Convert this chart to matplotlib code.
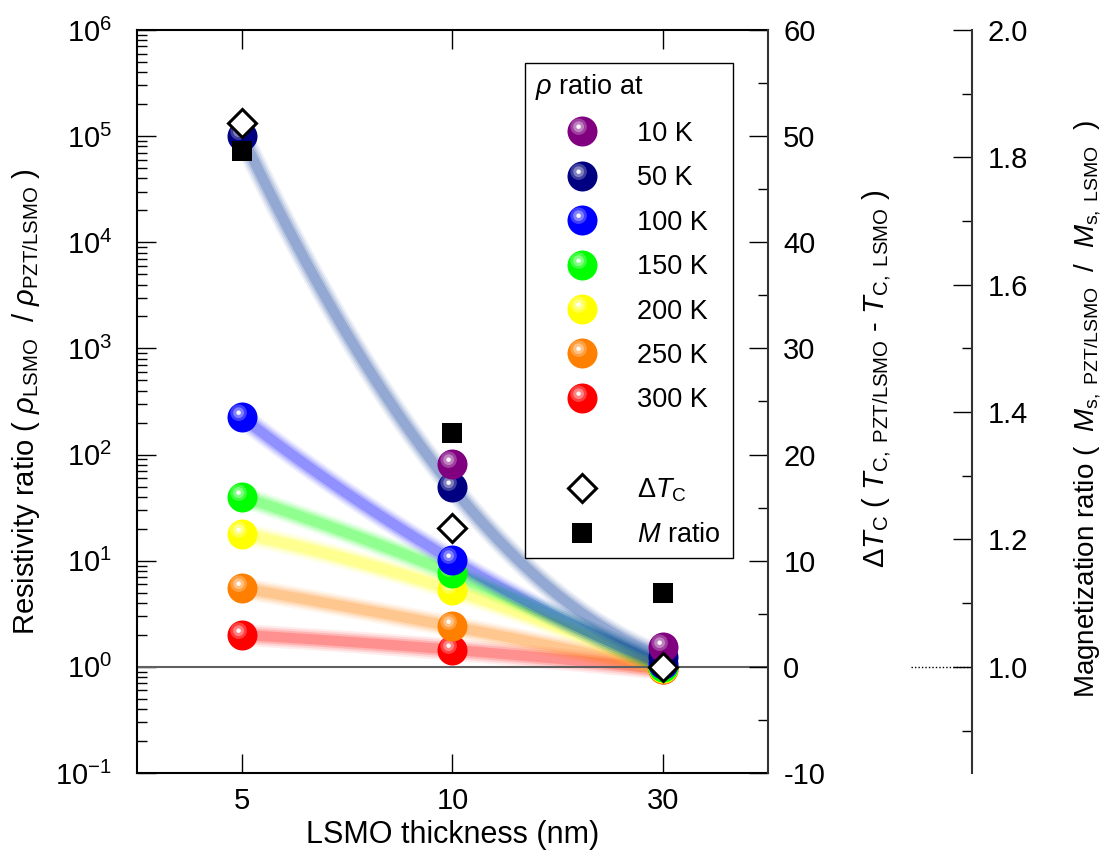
import numpy as np
import matplotlib
matplotlib.use('Agg')
import matplotlib.pyplot as plt
from matplotlib.lines import Line2D
from matplotlib.markers import MarkerStyle
from matplotlib.transforms import Affine2D
from matplotlib.legend_handler import HandlerTuple
from matplotlib.ticker import MultipleLocator, FormatStrFormatter, LogLocator

plt.rcParams['font.family'] = ['Liberation Sans', 'DejaVu Sans']
plt.rcParams['mathtext.fontset'] = 'custom'
plt.rcParams['mathtext.rm'] = 'Liberation Sans'
plt.rcParams['mathtext.it'] = 'Liberation Sans:italic'
plt.rcParams['mathtext.bf'] = 'Liberation Sans:bold'
plt.rcParams['axes.unicode_minus'] = False

# data
thickness = ['5', '10', '30']
temps = ['10 K', '50 K', '100 K', '150 K', '200 K', '250 K', '300 K']
rho_10K = [np.nan, 82, 1.55]
rho_50K = [1.0e5, 49, 1.25]
rho_100K = [224, 10.1, 1.06]
rho_150K = [40, 7.6, 1.0]
rho_200K = [18, 5.3, 0.97]
rho_250K = [5.5, 2.4, 0.96]
rho_300K = [2.0, 1.45, 0.95]
dTc = [51.2, 13.1, 0.0]
m_ratio = [1.81, 1.367, 1.116]

rho_all = [rho_10K, rho_50K, rho_100K, rho_150K, rho_200K, rho_250K, rho_300K]
ball_colors = ['#800080', '#000080', '#0000ff', '#00ff00', '#ffff00', '#ff8000', '#ff0000']
band_colors = [None, '#08389a', '#0000ff', '#00ff00', '#ffff00', '#ff8000', '#ff0000']

x = np.arange(len(thickness))
BALL = 21.6  # marker size in points

# glossy highlight on the balls
hl_layers = [(MarkerStyle('o', transform=Affine2D().scale(0.55).translate(-0.13, 0.16)), 0.25),
             (MarkerStyle('o', transform=Affine2D().scale(0.36).translate(-0.13, 0.16)), 0.35),
             (MarkerStyle('o', transform=Affine2D().scale(0.15).translate(-0.13, 0.16)), 0.95)]


def ball_handles(c):
    hs = [Line2D([], [], ls='none', marker='o', ms=BALL, color=c, mew=0)]
    for m, a in hl_layers:
        hs.append(Line2D([], [], ls='none', marker=m, ms=BALL, color='white', alpha=a, mew=0))
    return tuple(hs)


fig = plt.figure(figsize=(11.2, 8.63), dpi=100)
ax = fig.add_axes([0.12232, 0.10429, 0.56339, 0.86095])
ax.set_yscale('log')
ax.set_xlim(-0.5, 2.5)
ax.set_ylim(0.1, 1e6)

# soft guide bands through the data (quadratic in log space)
xs = np.linspace(0, 2, 100)
for i in [6, 5, 4, 3, 2, 1]:
    coef = np.polyfit(x, np.log10(rho_all[i]), 2)
    ys = 10 ** np.polyval(coef, xs)
    for lw, a in [(22, 0.07), (18, 0.1), (14, 0.15), (10, 0.2)]:
        ax.plot(xs, ys, color=band_colors[i], lw=lw * 0.72, alpha=a,
                solid_capstyle='butt', zorder=2)

ax.axhline(1, color='#606060', lw=1.5, zorder=2.5)

for i in range(len(rho_all) - 1, -1, -1):
    z = 10 + (len(rho_all) - i) * 0.1
    c = ball_colors[i]
    ax.plot(x, rho_all[i], 'o', ms=BALL, color=c, mew=0, zorder=z)
    for m, a in hl_layers:
        ax.plot(x, rho_all[i], ls='none', marker=m, ms=BALL, color='white',
                alpha=a, mew=0, zorder=z + 0.01)
handles = [ball_handles(c) for c in ball_colors]

ax.set_xticks(x)
ax.set_xticklabels(thickness)
ax.yaxis.set_major_locator(LogLocator(base=10, numticks=20))
ax.yaxis.set_minor_locator(LogLocator(base=10, subs=np.arange(2, 10), numticks=20))
ax.tick_params(axis='both', which='major', direction='in', length=14, width=1,
               labelsize=21, top=True, right=False)
ax.tick_params(axis='both', which='minor', direction='in', length=7, width=1,
               top=False, right=False)
ax.tick_params(axis='x', which='minor', bottom=False)
ax.tick_params(axis='y', pad=18)
ax.tick_params(axis='x', pad=10)
for s in ['left', 'bottom', 'top']:
    ax.spines[s].set_linewidth(1.5)
ax.spines['right'].set_visible(False)

ax.set_xlabel('LSMO thickness (nm)', fontsize=22, labelpad=4)
ax.set_ylabel(r'Resistivity ratio ( $\rho_{\mathrm{LSMO}}$  / $\rho_{\mathrm{PZT/LSMO}}$ )',
              fontsize=21)
ax.yaxis.set_label_coords(-0.15, 0.5)

# Delta Tc axis
ax2 = ax.twinx()
ax2.set_ylim(-10, 60)
ax2.plot(x, dTc, ls='none', marker='D', ms=14.5, mfc='white', mec='black', mew=2.2, zorder=20)
ax2.yaxis.set_major_locator(MultipleLocator(10))
ax2.yaxis.set_minor_locator(MultipleLocator(5))
ax2.tick_params(axis='y', which='major', direction='in', length=14, width=1, labelsize=21, pad=11)
ax2.tick_params(axis='y', which='minor', direction='in', length=7, width=1)
for s in ['left', 'top', 'bottom']:
    ax2.spines[s].set_visible(False)
ax2.spines['right'].set_linewidth(1.5)
ax2.spines['right'].set_color('#333333')
ax2.set_ylabel(r'$\mathit{Δ T}_{\mathrm{C}}$ ( $T_{\mathrm{C,\ PZT/LSMO}}$ - $T_{\mathrm{C,\ LSMO}}$ )',
               fontsize=21, rotation=90)
ax2.yaxis.set_label_coords(1.146, 0.53)

# magnetization axis
ax3 = ax.twinx()
ax3.spines['right'].set_position(('axes', 1.3233))
for s in ['left', 'top', 'bottom']:
    ax3.spines[s].set_visible(False)
ax3.spines['right'].set_linewidth(1.5)
ax3.spines['right'].set_color('#333333')
ax3.set_ylim(1 - 1 / 6, 2.0)
ax3.plot(x, m_ratio, ls='none', marker='s', ms=14, color='black', mew=0, zorder=20)
ax3.yaxis.set_major_locator(MultipleLocator(0.2))
ax3.yaxis.set_minor_locator(MultipleLocator(0.1))
ax3.yaxis.set_major_formatter(FormatStrFormatter('%.1f'))
ax3.tick_params(axis='y', which='major', direction='in', length=14, width=1, labelsize=21, pad=11)
ax3.tick_params(axis='y', which='minor', direction='in', length=7, width=1)
ax3.plot([1.2266, 1.3233], [1, 1], transform=ax3.get_yaxis_transform(), clip_on=False,
         color='black', lw=1, ls=(0, (1, 1.5)))
ax3.set_ylabel(r'Magnetization ratio (  $M_{\mathrm{s,\ PZT/LSMO}}$  /  $M_{\mathrm{s,\ LSMO}}$  )',
               fontsize=20, rotation=90)
ax3.yaxis.set_label_coords(1.483, 0.49)

# legend
blank = Line2D([], [], ls='none')
dia = Line2D([], [], ls='none', marker='D', ms=14.5, mfc='white', mec='black', mew=2.2)
sq = Line2D([], [], ls='none', marker='s', ms=14, color='black', mew=0)
leg = ax.legend(handles + [blank, dia, sq], temps + [' ', r'$\Delta T_{\mathrm{C}}$', r'$M$ ratio'],
                handler_map={tuple: HandlerTuple(ndivide=1)},
                title=r'$\rho$ ratio at', title_fontsize=19.5, alignment='left',
                loc='upper left', bbox_to_anchor=(0.615, 0.9556, 0.3295, 0.0), mode='expand',
                borderaxespad=0, fontsize=19.5, frameon=True, fancybox=False,
                edgecolor='black', framealpha=1, borderpad=0.35, handlelength=3.5,
                handletextpad=0.3, labelspacing=0.68)
leg.get_frame().set_linewidth(1)
leg.set_zorder(30)

fig.savefig('out.png', dpi=100, facecolor='white')
